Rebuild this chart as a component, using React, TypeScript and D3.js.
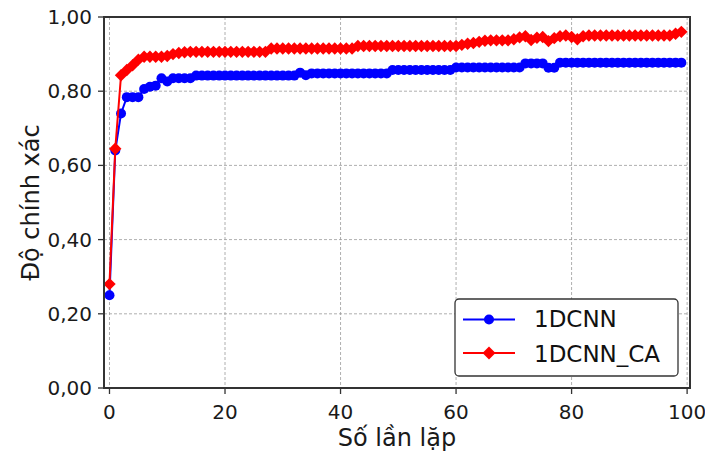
import React from 'react';
import * as d3 from 'd3';

// accuracy per epoch
const blue = [
  0.25, 0.64, 0.74, 0.784, 0.784, 0.784, 0.806, 0.812, 0.815, 0.835,
  0.826, 0.835, 0.835, 0.835, 0.835, 0.842, 0.842, 0.842, 0.842, 0.842,
  0.842, 0.842, 0.842, 0.842, 0.842, 0.842, 0.842, 0.842, 0.842, 0.842,
  0.842, 0.842, 0.842, 0.85, 0.843, 0.848, 0.848, 0.848, 0.848, 0.848,
  0.848, 0.848, 0.848, 0.848, 0.848, 0.848, 0.848, 0.848, 0.848, 0.857,
  0.857, 0.857, 0.857, 0.857, 0.857, 0.857, 0.857, 0.857, 0.857, 0.857,
  0.864, 0.864, 0.864, 0.864, 0.864, 0.864, 0.864, 0.864, 0.864, 0.864,
  0.864, 0.864, 0.875, 0.875, 0.875, 0.875, 0.863, 0.863, 0.877, 0.877,
  0.877, 0.877, 0.877, 0.877, 0.877, 0.877, 0.877, 0.877, 0.877, 0.877,
  0.877, 0.877, 0.877, 0.877, 0.877, 0.877, 0.877, 0.877, 0.877, 0.877,
];
const red = [
  0.28, 0.645, 0.843, 0.857, 0.87, 0.885, 0.893, 0.893, 0.893, 0.893,
  0.895, 0.9, 0.903, 0.905, 0.906, 0.906, 0.906, 0.906, 0.906, 0.906,
  0.906, 0.906, 0.906, 0.906, 0.906, 0.906, 0.906, 0.906, 0.915, 0.915,
  0.915, 0.915, 0.915, 0.915, 0.915, 0.915, 0.915, 0.915, 0.915, 0.915,
  0.915, 0.915, 0.915, 0.922, 0.922, 0.922, 0.922, 0.922, 0.922, 0.922,
  0.922, 0.922, 0.922, 0.922, 0.922, 0.922, 0.922, 0.922, 0.922, 0.922,
  0.922, 0.925, 0.928, 0.93, 0.933, 0.936, 0.937, 0.937, 0.937, 0.937,
  0.94, 0.945, 0.948, 0.938, 0.944, 0.946, 0.935, 0.943, 0.948, 0.95,
  0.946, 0.94, 0.948, 0.95, 0.95, 0.95, 0.95, 0.95, 0.95, 0.95,
  0.95, 0.95, 0.95, 0.95, 0.95, 0.95, 0.95, 0.95, 0.955, 0.96,
];
const seriesNames = ['1DCNN', '1DCNN_CA'];
const xTicks = [0, 20, 40, 60, 80, 100];
const yTicks = [0, 0.2, 0.4, 0.6, 0.8, 1.0];

const W = 705, H = 454;
const left = 104, right = 690, top = 17, bottom = 388;
const font = 'DejaVu Sans, sans-serif';

const App = () => {
  const x = d3.scaleLinear().domain([-0.95, 100.5]).range([left, right]);
  const y = d3.scaleLinear().domain([0, 1]).range([bottom, top]);
  const line = d3.line<number>().x((d, i) => x(i)).y(d => y(d));
  const fmt = (v: number) => d3.format('.2f')(v).replace('.', ',');
  const diamond = (cx: number, cy: number, r: number) =>
    `M${cx},${cy - r}L${cx + r},${cy}L${cx},${cy + r}L${cx - r},${cy}Z`;

  return (
    <svg width={W} height={H} style={{ position: 'absolute', left: 0, top: 0 }} fontFamily={font}>
      <rect width={W} height={H} fill="#fff" />
      {/* grid */}
      <g stroke="#9a9a9a" strokeWidth={0.8} strokeDasharray="3,2">
        {xTicks.map(t => <line key={'gx' + t} x1={x(t)} x2={x(t)} y1={top} y2={bottom} />)}
        {yTicks.map(t => <line key={'gy' + t} x1={left} x2={right} y1={y(t)} y2={y(t)} />)}
      </g>
      {/* series */}
      <path d={line(blue) || ''} fill="none" stroke="#0000ff" strokeWidth={2} />
      {blue.map((v, i) => <circle key={'b' + i} cx={x(i)} cy={y(v)} r={5} fill="#0000ff" />)}
      <path d={line(red) || ''} fill="none" stroke="#ff0000" strokeWidth={2} />
      {red.map((v, i) => <path key={'r' + i} d={diamond(x(i), y(v), 6.2)} fill="#ff0000" />)}
      {/* spines */}
      <rect x={left} y={top} width={right - left} height={bottom - top} fill="none" stroke="#333" strokeWidth={2} />
      {/* ticks */}
      <g stroke="#333" strokeWidth={1.3}>
        {xTicks.map(t => <line key={'tx' + t} x1={x(t)} x2={x(t)} y1={bottom} y2={bottom + 6} />)}
        {yTicks.map(t => <line key={'ty' + t} x1={left - 6} x2={left} y1={y(t)} y2={y(t)} />)}
      </g>
      <g fontSize={20} fill="#1a1a1a">
        {xTicks.map(t => <text key={'lx' + t} x={x(t)} y={bottom + 31} textAnchor="middle">{t}</text>)}
        {yTicks.map(t => <text key={'ly' + t} x={left - 12} y={y(t) + 7} textAnchor="end">{fmt(t)}</text>)}
      </g>
      <text x={(left + right) / 2} y={446} textAnchor="middle" fontSize={24} fill="#1a1a1a">Số lần lặp</text>
      <text transform={`translate(39,${(top + bottom) / 2}) rotate(-90)`} textAnchor="middle" fontSize={24} fill="#1a1a1a">Độ chính xác</text>
      {/* legend */}
      <g>
        <rect x={455} y={299} width={223} height={77} rx={4} fill="#fff" stroke="#333" strokeWidth={1.3} />
        <line x1={463} x2={515} y1={319.5} y2={319.5} stroke="#0000ff" strokeWidth={2} />
        <circle cx={489} cy={319.5} r={5} fill="#0000ff" />
        <text x={534} y={327} fontSize={23} fill="#111">{seriesNames[0]}</text>
        <line x1={463} x2={515} y1={353} y2={353} stroke="#ff0000" strokeWidth={2} />
        <path d={diamond(489, 353, 6.5)} fill="#ff0000" />
        <text x={534} y={361.5} fontSize={23} fill="#111">{seriesNames[1]}</text>
      </g>
    </svg>
  );
};

export default App;
